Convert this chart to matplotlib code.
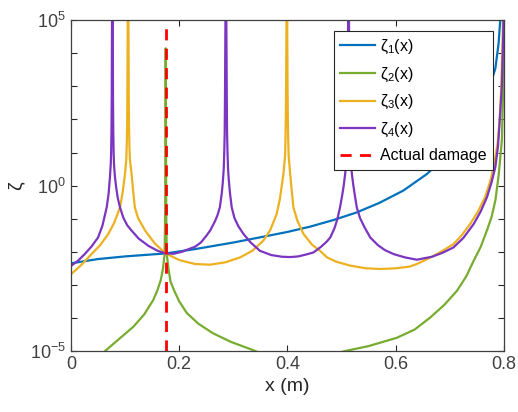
import numpy as np
import matplotlib
matplotlib.use('Agg')
import matplotlib.pyplot as plt
from matplotlib.ticker import FixedLocator, FuncFormatter

plt.rcParams['font.family'] = ['Liberation Sans', 'DejaVu Sans']
plt.rcParams['mathtext.fontset'] = 'custom'
plt.rcParams['mathtext.rm'] = 'Liberation Sans'
plt.rcParams['mathtext.it'] = 'Liberation Sans:italic'

# datos (x en m, log10 de zeta)
x1 = [0.0, 0.05, 0.10, 0.175, 0.229, 0.30, 0.36, 0.40, 0.442, 0.485, 0.528, 0.57,
      0.614, 0.6575, 0.70, 0.74, 0.77, 0.784, 0.79, 0.793, 0.797]
z1 = [-2.35, -2.22, -2.14, -2.05, -1.92, -1.72, -1.53, -1.40, -1.24, -1.04, -0.81, -0.52,
      -0.15, 0.35, 1.0, 1.8, 2.8, 3.54, 4.3, 5.0, 6.0]

x2 = [0.0, 0.04, 0.063, 0.09, 0.115, 0.135, 0.152, 0.16, 0.166, 0.170, 0.173, 0.1735,
      0.174, 0.1743, 0.1745, 0.1747, 0.175, 0.1753, 0.1755, 0.1757, 0.176, 0.1765,
      0.177, 0.180, 0.184, 0.19, 0.20, 0.214, 0.235, 0.262, 0.295, 0.336, 0.40, 0.45,
      0.48, 0.5065, 0.55, 0.602, 0.635, 0.6635, 0.69, 0.713, 0.73, 0.744, 0.757,
      0.7685, 0.777, 0.784, 0.79, 0.796, 0.7985, 0.800]
z2 = [-6.8, -5.4, -5.0, -4.62, -4.27, -3.9, -3.46, -3.15, -2.85, -2.5, -2.07, -1.5,
      -0.8, 0.5, 1.5, 3.0, 4.15, 3.0, 1.5, 0.5, -0.8, -1.5,
      -2.07, -2.5, -2.9, -3.15, -3.5, -3.85, -4.17, -4.46, -4.72, -4.97, -5.4, -5.3,
      -5.12, -5.0, -4.85, -4.6, -4.35, -3.99, -3.6, -3.18, -2.75, -2.27, -1.85,
      -1.35, -0.95, -0.45, 0.3, 1.36, 3.0, 5.2]

x3 = [0.0, 0.019, 0.038, 0.054, 0.069, 0.08, 0.0906, 0.0955, 0.0998, 0.1023, 0.1031,
      0.1037, 0.1042, 0.1047, 0.1055, 0.1063, 0.1068, 0.1073, 0.1079, 0.1088, 0.112,
      0.1145, 0.118, 0.124, 0.137, 0.155, 0.175, 0.20, 0.229, 0.257, 0.285, 0.3125,
      0.335, 0.355, 0.368, 0.380, 0.386, 0.3925, 0.3955, 0.3963, 0.3969, 0.3974,
      0.398, 0.3988, 0.3996, 0.4002, 0.4007, 0.4013, 0.4021, 0.405, 0.4075, 0.411,
      0.418, 0.4295, 0.445, 0.460, 0.473, 0.49, 0.516, 0.545, 0.571, 0.60, 0.625,
      0.639, 0.667, 0.6865, 0.7065, 0.722, 0.7375, 0.752, 0.765, 0.774, 0.781, 0.788,
      0.792, 0.795, 0.7975, 0.799]
z3 = [-2.68, -2.4, -2.07, -1.8, -1.46, -1.12, -0.66, -0.2, 0.35, 0.8, 1.25,
      1.8, 2.6, 4.5, 7.0, 4.5, 2.6, 1.8, 1.25, 0.8, 0.35,
      -0.1, -0.66, -0.98, -1.36, -1.75, -2.05, -2.25, -2.37, -2.39, -2.32, -2.17,
      -1.97, -1.67, -1.35, -0.86, -0.4, 0.35, 0.9, 1.4, 2.0, 2.8,
      4.5, 7.0, 4.5, 2.8, 2.0, 1.4, 0.9, 0.35, -0.1, -0.66,
      -1.05, -1.46, -1.78, -1.97, -2.17, -2.3, -2.42, -2.5, -2.52, -2.5, -2.45,
      -2.37, -2.15, -1.97, -1.77, -1.5, -1.16, -0.78, -0.35, 0.1, 0.56, 1.26,
      2.0, 3.0, 4.5, 6.0]

x4 = [0.0, 0.013, 0.026, 0.038, 0.050, 0.058, 0.066, 0.0695, 0.072, 0.0735, 0.0742,
      0.0748, 0.0753, 0.0757, 0.0765, 0.0773, 0.0777, 0.0782, 0.0788, 0.0795, 0.081,
      0.0835, 0.0865, 0.0906, 0.097, 0.104, 0.112, 0.125, 0.143, 0.16, 0.175, 0.19,
      0.205, 0.219, 0.229, 0.240, 0.250, 0.257, 0.266, 0.271, 0.275, 0.2785, 0.2805,
      0.2822, 0.2832, 0.2840, 0.2845, 0.2852, 0.2862, 0.2872, 0.2879, 0.2884, 0.2892,
      0.2902, 0.2919, 0.2939, 0.297, 0.302, 0.309, 0.3186, 0.332, 0.349, 0.37, 0.39,
      0.405, 0.42, 0.435, 0.448, 0.462, 0.472, 0.479, 0.487, 0.492, 0.497, 0.501,
      0.504, 0.5065, 0.5085, 0.5096, 0.5104, 0.5110, 0.5118, 0.5128, 0.5138, 0.5146,
      0.5152, 0.516, 0.517, 0.519, 0.5215, 0.5245, 0.528, 0.534, 0.542, 0.553, 0.567,
      0.58, 0.596, 0.617, 0.639, 0.667, 0.6865, 0.7065, 0.725, 0.744, 0.757, 0.7685,
      0.777, 0.784, 0.789, 0.793, 0.796, 0.7985, 0.800]
z4 = [-2.43, -2.27, -2.06, -1.84, -1.57, -1.22, -0.66, -0.25, 0.25, 0.65, 1.0,
      1.6, 2.6, 4.5, 7.0, 4.5, 2.6, 1.6, 1.0, 0.65, 0.3,
      -0.05, -0.38, -0.66, -0.98, -1.2, -1.36, -1.6, -1.82, -1.97, -2.05, -2.06,
      -2.0, -1.91, -1.85, -1.72, -1.52, -1.36, -1.08, -0.88, -0.66, -0.25, 0.1,
      0.5, 1.0, 1.6, 2.6, 4.5, 7.0, 4.5, 2.6, 1.6, 1.0,
      0.5, 0.1, -0.25, -0.66, -0.98, -1.22, -1.46, -1.72, -1.97, -2.1, -2.15,
      -2.16, -2.14, -2.08, -2.02, -1.85, -1.7, -1.57, -1.28, -1.02, -0.66, -0.3,
      0.02, 0.35, 0.7, 1.1, 1.6, 2.6, 4.5, 7.0, 4.5, 2.6,
      1.6, 1.1, 0.7, 0.35, 0.02, -0.3, -0.66, -0.98, -1.25, -1.57, -1.8,
      -1.95, -2.07, -2.17, -2.24, -2.15, -2.03, -1.87, -1.58, -1.16, -0.78, -0.35,
      0.1, 0.56, 1.2, 2.2, 3.0, 4.5, 6.0]

x_dano = 0.175
nombres = [r'ζ$_1$(x)', r'ζ$_2$(x)', r'ζ$_3$(x)', r'ζ$_4$(x)']
colores = ['#0072BD', '#77AC30', '#EDB120', '#7B35C0']

fig = plt.figure(figsize=(5.18, 4.12), dpi=100)
ax = fig.add_axes([0.137, 0.148, 0.836, 0.803])

for xs, zs, nom, col in zip([x1, x2, x3, x4], [z1, z2, z3, z4], nombres, colores):
    ax.plot(xs, 10.0**np.array(zs), color=col, lw=1.6, label=nom)
ax.axvline(x_dano, color='r', ls='--', lw=2, dashes=(4, 3), label='Actual damage')

ax.set_yscale('log')
ax.set_xlim(0, 0.8)
ax.set_ylim(1e-5, 1e5)
ax.yaxis.set_major_locator(FixedLocator([10.0**k for k in range(-5, 6)]))
ax.yaxis.set_minor_locator(FixedLocator([]))
ax.yaxis.set_major_formatter(FuncFormatter(
    lambda v, p: r'$\mathdefault{10^{%d}}$' % round(np.log10(v)) if round(np.log10(v)) in (-5, 0, 5) else ''))
ax.set_xticks([0, 0.2, 0.4, 0.6, 0.8])
ax.set_xticklabels(['0', '0.2', '0.4', '0.6', '0.8'])
ax.tick_params(direction='in', top=True, right=True, length=4, width=0.8,
               labelsize=13, colors='#262626', labelcolor='#404040')
for s in ax.spines.values():
    s.set_color('#404040')
    s.set_linewidth(0.9)

ax.set_xlabel('x (m)', fontsize=14, color='#262626')
ax.set_ylabel('ζ', fontsize=14, color='#262626')

leg = ax.legend(loc='upper right', fontsize=11.5, fancybox=False, framealpha=1,
                edgecolor='#262626', handlelength=2.2, borderaxespad=0.7,
                labelspacing=0.6, handletextpad=0.3)
leg.get_frame().set_linewidth(0.8)

plt.savefig('out.png', dpi=100)
